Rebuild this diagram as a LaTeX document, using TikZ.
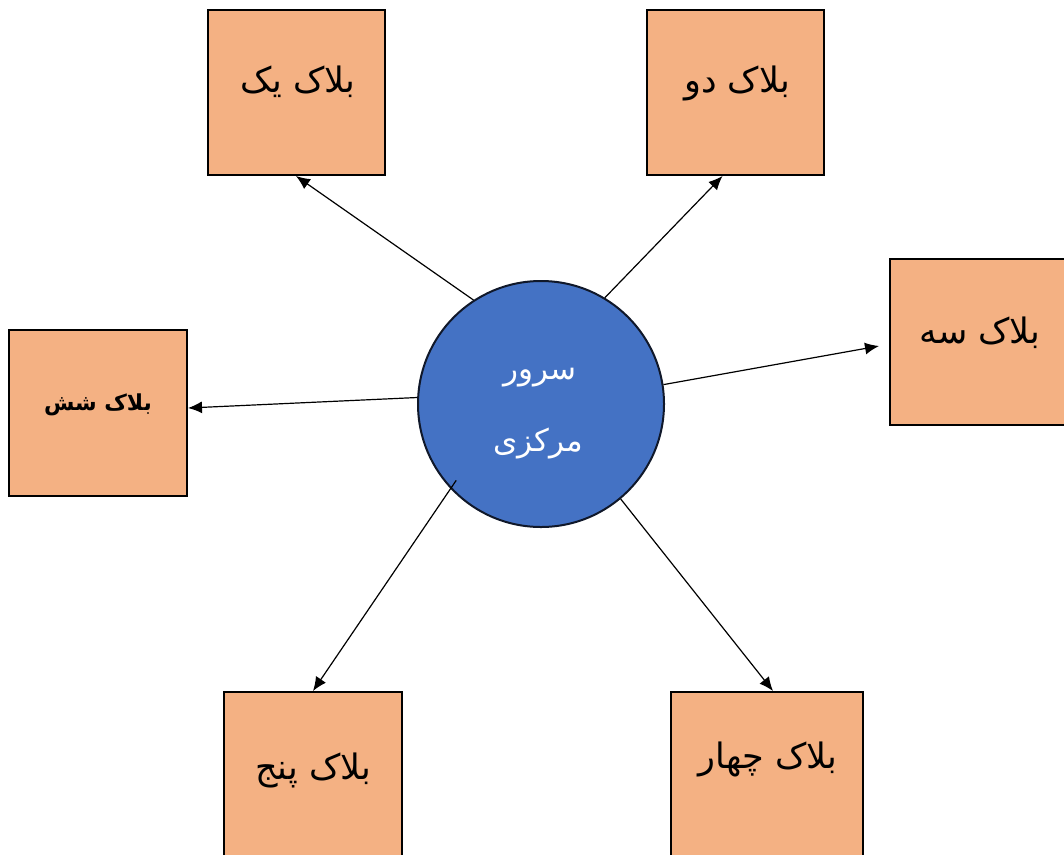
\documentclass[tikz,border=0pt]{standalone}
\usepackage{fontspec}
\usetikzlibrary{arrows.meta,calc}
\TeXXeTstate=1
\newfontfamily\fa[Script=Arabic]{DejaVu Sans}
\definecolor{blockfill}{HTML}{F4B183}
\definecolor{serverfill}{HTML}{4472C4}
\definecolor{serverline}{HTML}{10182A}
\begin{document}
\begin{tikzpicture}[x=1pt,y=-1pt,
  block/.style={draw=black,line width=2pt,fill=blockfill,rectangle,inner sep=0pt,
    minimum width=177pt,minimum height=165pt},
  server/.style={draw=serverline,line width=2pt,fill=serverfill,circle,inner sep=0pt,
    minimum size=246pt},
  label/.style={font=\fa\fontsize{35}{40}\selectfont,text=black,inner sep=0pt},
  slabel/.style={font=\fa\fontsize{31}{36}\selectfont,text=white,inner sep=0pt},
  link/.style={draw=black,line width=1.2pt,-{Latex[length=14pt,width=12pt]}}]
\useasboundingbox (0,0) rectangle (1064,854);
\fill[white] (0,0) rectangle (1064,854);
\clip (0,0) rectangle (1064,854);

% central server
\node[server] (c) at (541,404) {};
\node[slabel] (ct1) at (540,378) {\beginR سرور\endR};
\node[slabel] (ct2) at (538,443) {\beginR مرکزی\endR};

% six blocks around the server
\node[block] (b1) at (296,92.5) {};
\node[block] (b2) at (735.5,92.5) {};
\node[block,minimum width=176pt,minimum height=166pt] (b3) at (978,342) {};
\node[block,minimum width=178pt,minimum height=166pt] (b6) at (98,413) {};
\node[block,minimum width=178pt] (b5) at (313,774.5) {};
\node[block,minimum width=192pt] (b4) at (767,774.5) {};

\node[label] (t1) at (298,82) {\beginR بلاک یک\endR};
\node[label] (t2) at (737,83) {\beginR بلاک دو\endR};
\node[label] (t3) at (980,333) {\beginR بلاک سه\endR};
\node[label,font=\fa\bfseries\fontsize{22}{26}\selectfont] (t6) at (98,405) {\beginR بلاک شش\endR};
\node[label] (t5) at (313,770) {\beginR بلاک پنج\endR};
\node[label] (t4) at (768,759) {\beginR بلاک چهار\endR};

% connectors
\draw[link] (c.123) -- (b1.south);
\draw[link] (c.59) -- ($(b2.south)+(-13,0)$);
\draw[link] (c.9.5) -- ($(b3.west)+(-10,4)$);
\draw[link] (c.177) -- ($(b6.east)+(0,-5)$);
\draw[link] ($(c.center)!0.92!(c.222)$) -- (b5.north);
\draw[link] (c.310) -- ($(b4.north)+(6,0)$);
\end{tikzpicture}
\end{document}
